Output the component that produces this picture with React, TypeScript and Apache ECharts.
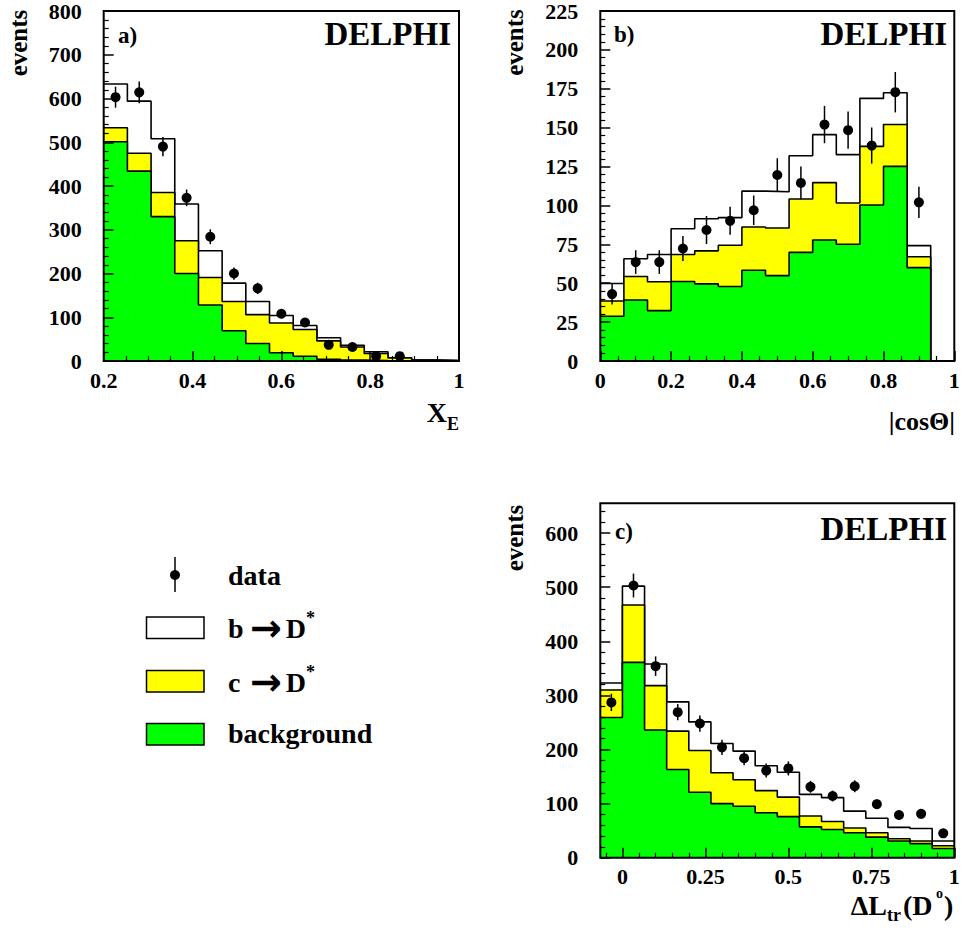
import React, { useEffect, useRef } from "react";
import * as echarts from "echarts";

// ---------- DATA ----------
// Panel a) X_E : 15 bins from 0.2 to 1.0
const binsA = { lo: 0.2, hi: 1.0, n: 15 };
const bgA = [501, 434, 330, 200, 128, 69, 40, 19, 11, 4, 2, 1, 0.5, 0.3, 0.2];
const cA = [32, 41, 55, 75, 63, 67, 66, 68, 61, 42, 30, 16, 6.5, 1.7, 0.8];
const bA = [100, 119, 123, 84, 61, 42, 30, 17, 9, 7, 4, 4, 0.5, 0, 0];
const dataA = [603, 614, 490, 373, 284, 200, 166, 108, 88, 37, 32, 11, 11];
const errA = [24, 25, 22, 19, 17, 14, 13, 10, 9, 6, 6, 3, 3];

// Panel b) |cosTheta| : 15 bins from 0 to 1
const binsB = { lo: 0, hi: 1, n: 15 };
const bgB = [28.8, 39.2, 32.4, 51.1, 49.6, 47.9, 58.3, 54.9, 69.8, 77.8, 75.1, 100.3, 125.1, 60, 0];
const cB = [9.8, 15.1, 18.5, 17.4, 21.2, 26.5, 27.8, 30.6, 34.3, 36.9, 26.5, 37.7, 26.9, 7, 0];
const bB = [11.2, 11.4, 17.6, 16.5, 20.6, 17.8, 23.1, 23.3, 27.8, 30.8, 31.1, 30.8, 20.4, 7.2, 0];
const dataB = [43, 63.6, 63.6, 72.3, 84.2, 90.1, 96.9, 119.6, 114.5, 152, 148.4, 138.5, 172.8, 102];
const errB = [6.6, 7.6, 7.6, 8, 9, 9, 9.5, 10.8, 10.5, 12, 12, 11.6, 13, 10];

// Panel c) Delta L_tr(D0) : 16 bins from -1/15 to 1
const binsC = { lo: -1 / 15, hi: 1, n: 16 };
const bgC = [259, 361, 236, 163, 121, 100, 95, 83, 76, 57, 52, 46, 38, 31, 26, 17];
const cC = [51, 106, 82, 71, 77, 57, 49, 41, 36, 20, 15, 9, 8, 4, 5, 5];
const bC = [13, 35, 40, 54, 53, 54, 53, 46, 46, 40, 44, 31, 27, 21, 23, 9];
const dataC = [287, 503, 354, 269, 248, 204, 184, 161, 165, 131, 114, 132, 99, 79, 81, 45];
const errC = [16, 22, 18, 15, 15, 14, 13, 13, 13, 11, 10, 11, 9, 8, 8, 6];

// Tick values
const ticksCX = [0, 0.25, 0.5, 0.75, 1];
const minorCX = [-0.05, 0.05, 0.1, 0.15, 0.2, 0.3, 0.35, 0.4, 0.45, 0.55, 0.6, 0.65, 0.7, 0.8, 0.85, 0.9, 0.95];
const ticksCY = [0, 100, 200, 300, 400, 500, 600];
const minorCY = [20, 40, 60, 80, 120, 140, 160, 180, 220, 240, 260, 280, 320, 340, 360, 380, 420, 440, 460, 480, 520, 540, 560, 580, 620, 640];

const FONT = "'Liberation Serif', 'Times New Roman', serif";
const YELLOW = "#ffff00";
const GREEN = "#00ff00";

// ---------- helpers ----------
function edges(b: { lo: number; hi: number; n: number }) {
  const e: number[] = [];
  for (let i = 0; i <= b.n; i++) e.push(b.lo + ((b.hi - b.lo) * i) / b.n);
  return e;
}
function addArr(a: number[], b: number[]) {
  return a.map((v, i) => v + b[i]);
}
function stepData(e: number[], v: number[]) {
  const pts: number[][] = v.map((y, i) => [e[i], y]);
  pts.push([e[e.length - 1], v[v.length - 1]]);
  return pts;
}

function panelSeries(bins: any, bg: number[], c: number[], b: number[], data: number[], err: number[], idx: number) {
  const e = edges(bins);
  const yel = addArr(bg, c);
  const tot = addArr(yel, b);
  const centers = data.map((_, i) => (e[i] + e[i + 1]) / 2);
  const hist = (name: string, vals: number[], color: string, z: number) => ({
    name,
    type: "line",
    xAxisIndex: idx,
    yAxisIndex: idx,
    step: "end",
    data: stepData(e, vals),
    symbol: "none",
    showSymbol: false,
    silent: true,
    z,
    lineStyle: { color: "#000", width: 1.6 },
    areaStyle: { color, opacity: 1 },
  });
  return [
    hist("b → D*", tot, "#ffffff", 2),
    hist("c → D*", yel, YELLOW, 3),
    hist("background", bg, GREEN, 4),
    {
      type: "custom",
      xAxisIndex: idx,
      yAxisIndex: idx,
      silent: true,
      z: 6,
      encode: { x: 0, y: 1 },
      data: data.map((y, i) => [centers[i], y, err[i]]),
      renderItem: (params: any, api: any) => {
        const x = api.value(0);
        const y = api.value(1);
        const er = api.value(2);
        const p1 = api.coord([x, y - er]);
        const p2 = api.coord([x, y + er]);
        return {
          type: "line",
          shape: { x1: p1[0], y1: p1[1], x2: p2[0], y2: p2[1] },
          style: { stroke: "#000", lineWidth: 1.5 },
        };
      },
    },
    {
      name: "data",
      type: "scatter",
      xAxisIndex: idx,
      yAxisIndex: idx,
      silent: true,
      z: 7,
      symbol: "circle",
      symbolSize: 10,
      itemStyle: { color: "#000", opacity: 1 },
      data: data.map((y, i) => [centers[i], y]),
    },
  ];
}

const labelStyle = { fontFamily: FONT, fontWeight: "bold", fontSize: 22, color: "#000" };

function valueAxis(gridIndex: number, min: number, max: number, interval: number | undefined, minorSplit: number, isX: boolean, extra: any = {}) {
  const ax: any = {
    type: "value",
    gridIndex,
    min,
    max,
    z: 10,
    axisLine: { show: false, onZero: false },
    splitLine: { show: false },
    axisTick: { show: true, inside: true, length: 10, lineStyle: { color: "#000", width: 1.5 } },
    minorTick: minorSplit
      ? { show: true, splitNumber: minorSplit, length: 5, lineStyle: { color: "#000", width: 1.2 } }
      : { show: false },
    axisLabel: { ...labelStyle, margin: isX ? 8 : 22, showMinLabel: true, showMaxLabel: true },
    ...extra,
  };
  if (interval !== undefined) ax.interval = interval;
  return ax;
}

function txt(x: number, y: number, text: string, size: number, align: string, extra: any = {}, family: string = FONT) {
  return {
    type: "text",
    x,
    y,
    z: 100,
    silent: true,
    style: {
      text,
      font: `bold ${size}px ${family}`,
      fill: "#000",
      textAlign: align,
      align,
      textVerticalAlign: "middle",
      verticalAlign: "middle",
    },
    ...extra,
  };
}

export default function App() {
  const ref = useRef<HTMLDivElement>(null);
  useEffect(() => {
    if (!ref.current) return;
    const chart = echarts.init(ref.current, undefined, { renderer: "svg" });
    const gridStyle = { show: true, z: 20, borderColor: "#000", borderWidth: 2, backgroundColor: "transparent", containLabel: false };
    const option: any = {
      animation: false,
      backgroundColor: "#ffffff",
      grid: [
        { ...gridStyle, left: 103.7, top: 7, width: 355.3, height: 354 },
        { ...gridStyle, left: 600.3, top: 7.3, width: 354, height: 353.7 },
        { ...gridStyle, left: 600.3, top: 503.3, width: 354, height: 354.4 },
      ],
      xAxis: [
        valueAxis(0, 0.2, 1, 0.2, 4, true, { position: "bottom" }),
        valueAxis(1, 0, 1, 0.2, 4, true, { position: "bottom" }),
        valueAxis(2, binsC.lo, 1, undefined, 0, true, {
          position: "bottom",
          axisTick: { show: true, inside: true, length: 10, customValues: ticksCX, lineStyle: { color: "#000", width: 1.5 } },
          axisLabel: { ...labelStyle, margin: 8, customValues: ticksCX },
        }),
        valueAxis(2, binsC.lo, 1, undefined, 0, true, {
          position: "bottom",
          axisLabel: { show: false },
          axisTick: { show: true, inside: true, length: 5, customValues: minorCX, lineStyle: { color: "#000", width: 1.2 } },
        }),
      ],
      yAxis: [
        valueAxis(0, 0, 800, 100, 5, false, { position: "left" }),
        valueAxis(1, 0, 225, 25, 5, false, { position: "left" }),
        valueAxis(2, 0, 655, undefined, 0, false, {
          position: "left",
          axisTick: { show: true, inside: true, length: 10, customValues: ticksCY, lineStyle: { color: "#000", width: 1.5 } },
          axisLabel: { ...labelStyle, margin: 22, customValues: ticksCY },
        }),
        valueAxis(2, 0, 655, undefined, 0, false, {
          position: "left",
          axisLabel: { show: false },
          axisTick: { show: true, inside: true, length: 5, customValues: minorCY, lineStyle: { color: "#000", width: 1.2 } },
        }),
      ],
      series: [
        ...panelSeries(binsA, bgA, cA, bA, dataA, errA, 0),
        ...panelSeries(binsB, bgB, cB, bB, dataB, errB, 1),
        ...panelSeries(binsC, bgC, cC, bC, dataC, errC, 2),
      ],
      graphic: [
        // y-axis titles
        txt(18.5, 43, "events", 25, "center", { rotation: Math.PI / 2 }),
        txt(514, 42.5, "events", 25, "center", { rotation: Math.PI / 2 }),
        txt(514, 538, "events", 25, "center", { rotation: Math.PI / 2 }),
        // DELPHI labels
        txt(451, 33.5, "DELPHI", 33, "right"),
        txt(947, 33.5, "DELPHI", 33, "right"),
        txt(947, 529, "DELPHI", 33, "right"),
        // panel tags
        txt(118, 35, "a)", 23, "left"),
        txt(614, 34, "b)", 23, "left"),
        txt(615, 531, "c)", 23, "left"),
        // x-axis titles
        txt(447, 412, "X", 28, "right"),
        txt(447, 424, "E", 18, "left"),
        txt(955, 421, "|cosΘ|", 26, "right"),
        txt(887, 905, "ΔL", 28, "right"),
        txt(887, 915, "tr", 18, "left"),
        txt(903, 905, "(D", 28, "left"),
        txt(936, 893, "o", 14, "left"),
        txt(944, 905, ")", 28, "left"),
        // legend
        { type: "line", z: 100, silent: true, shape: { x1: 175, y1: 557, x2: 175, y2: 592 }, style: { stroke: "#000", lineWidth: 1.5 } },
        { type: "circle", z: 101, silent: true, shape: { cx: 175, cy: 575, r: 5 }, style: { fill: "#000" } },
        txt(228, 575.5, "data", 28, "left"),
        { type: "rect", z: 100, silent: true, shape: { x: 146.5, y: 617, width: 57.5, height: 21.5 }, style: { fill: "#ffffff", stroke: "#000", lineWidth: 1.5 } },
        txt(228, 628.5, "b", 28, "left"),
        txt(266, 628, "→", 38, "center", {}, "'DejaVu Sans', sans-serif"),
        txt(306, 628.5, "D", 28, "right"),
        txt(306, 618, "*", 18, "left"),
        { type: "rect", z: 100, silent: true, shape: { x: 146.5, y: 670.5, width: 57.5, height: 21.5 }, style: { fill: YELLOW, stroke: "#000", lineWidth: 1.5 } },
        txt(228, 682.5, "c", 28, "left"),
        txt(266, 682, "→", 38, "center", {}, "'DejaVu Sans', sans-serif"),
        txt(306, 682.5, "D", 28, "right"),
        txt(306, 672, "*", 18, "left"),
        { type: "rect", z: 100, silent: true, shape: { x: 146.5, y: 723.5, width: 57.5, height: 21.5 }, style: { fill: GREEN, stroke: "#000", lineWidth: 1.5 } },
        txt(228, 733.5, "background", 28, "left"),
      ],
    };
    chart.setOption(option);
    return () => chart.dispose();
  }, []);
  return (
    <div
      ref={ref}
      style={{ position: "absolute", left: 0, top: 0, width: 963, height: 932, background: "#fff" }}
    />
  );
}
